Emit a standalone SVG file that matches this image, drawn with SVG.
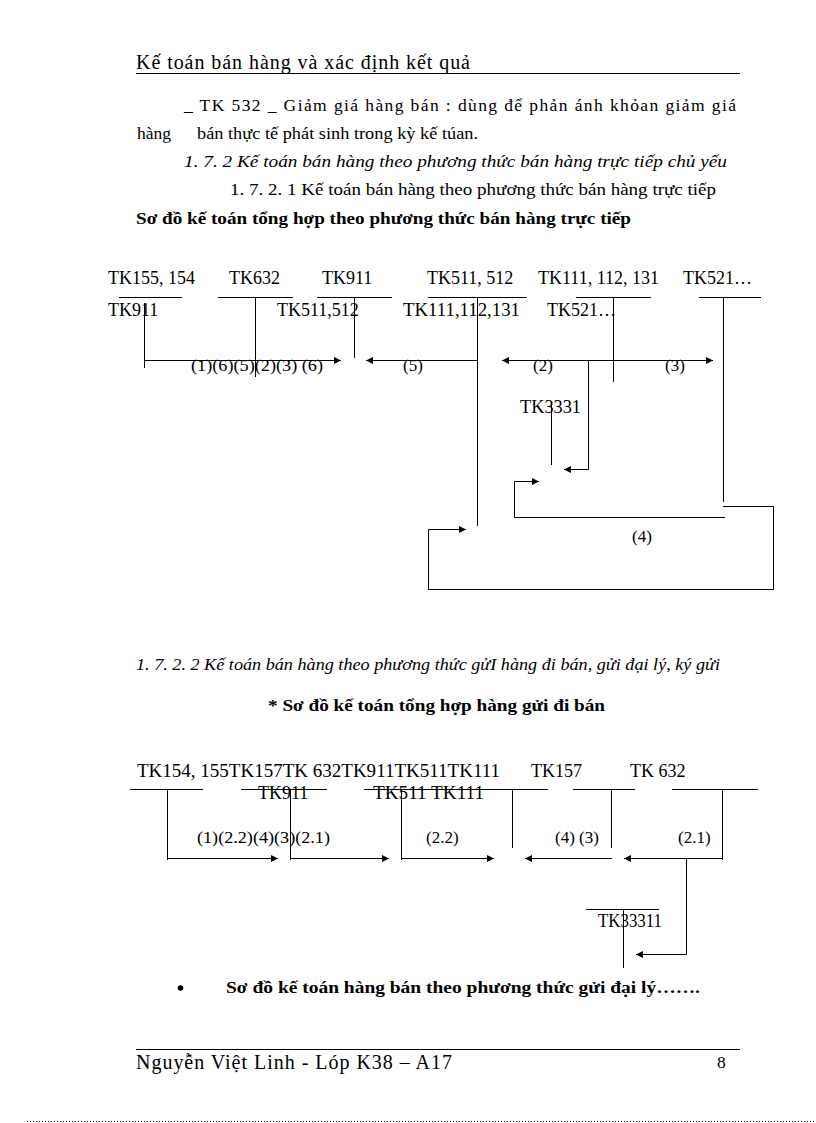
<svg xmlns="http://www.w3.org/2000/svg" width="816" height="1123" viewBox="0 0 816 1123">
<defs>
<marker id="ah" viewBox="0 0 10 10" refX="10" refY="5" markerWidth="9" markerHeight="7" markerUnits="userSpaceOnUse" orient="auto">
<path d="M0,0 L10,5 L0,10 z" fill="#000"/>
</marker>
</defs>
<style>
text{font-family:"Liberation Serif","Times New Roman",serif;fill:#000}
.h{font-size:20px}
.b{font-size:17.5px}
.i{font-size:17px;font-style:italic}
.bd{font-size:17px;font-weight:bold}
.t{font-size:18px}
.l{font-size:17px}
line,polyline{stroke:#000;stroke-width:1;fill:none}
.ar{marker-end:url(#ah)}
</style>
<rect width="816" height="1123" fill="#fff"/>

<g id="header">
<text class="h" x="136" y="69" textLength="334" lengthAdjust="spacing">Kế toán bán hàng và xác định kết quả</text>
<line x1="136" y1="73.5" x2="740" y2="73.5"/>
</g>

<g id="body-top">
<text class="b" x="184" y="111" textLength="552" lengthAdjust="spacing">_ TK 532 _ Giảm giá hàng bán : dùng để phản ánh khỏan giảm giá</text>
<text class="b" x="137" y="139">hàng</text>
<text class="b" x="197" y="139" textLength="281" lengthAdjust="spacingAndGlyphs">bán thực tế phát sinh trong kỳ kế túan.</text>
<text class="i" x="184" y="167" textLength="543" lengthAdjust="spacingAndGlyphs">1. 7. 2 Kế toán bán hàng theo phương thức bán hàng trực tiếp chủ yếu</text>
<text class="b" x="230" y="195" textLength="486" lengthAdjust="spacingAndGlyphs">1. 7. 2. 1 Kế toán bán hàng theo phương thức bán hàng trực tiếp</text>
<text class="bd" x="136" y="224" textLength="495" lengthAdjust="spacingAndGlyphs">Sơ đồ kế toán tổng hợp theo phương thức bán hàng trực tiếp</text>
</g>

<g id="d1-accounts">
<text class="t" x="108" y="284">TK155, 154</text>
<text class="t" x="229" y="284">TK632</text>
<text class="t" x="322" y="284">TK911</text>
<text class="t" x="427" y="284">TK511, 512</text>
<text class="t" x="538" y="284">TK111, 112, 131</text>
<text class="t" x="683" y="284">TK521…</text>
<text class="t" x="108" y="316">TK911</text>
<text class="t" x="277" y="316">TK511,512</text>
<text class="t" x="403" y="316" textLength="117" lengthAdjust="spacingAndGlyphs">TK111,112,131</text>
<text class="t" x="547" y="316">TK521…</text>
<text class="t" x="520" y="413" textLength="61" lengthAdjust="spacingAndGlyphs">TK3331</text>
</g>

<g id="d1-labels">
<text class="l" x="191" y="371" textLength="132" lengthAdjust="spacingAndGlyphs">(1)(6)(5)(2)(3) (6)</text>
<text class="l" x="403" y="371">(5)</text>
<text class="l" x="533" y="371">(2)</text>
<text class="l" x="665" y="371">(3)</text>
<text class="l" x="632" y="542">(4)</text>
</g>

<g id="d1-connectors">
<line x1="119" y1="297.5" x2="182" y2="297.5"/>
<line x1="218" y1="297.5" x2="293" y2="297.5"/>
<line x1="317" y1="297.5" x2="392" y2="297.5"/>
<line x1="428" y1="297.5" x2="527" y2="297.5"/>
<line x1="576" y1="297.5" x2="651" y2="297.5"/>
<line x1="699" y1="297.5" x2="761" y2="297.5"/>
<line x1="144.5" y1="303" x2="144.5" y2="368"/>
<line class="ar" x1="144.5" y1="360.5" x2="341" y2="360.5"/>
<line x1="255.5" y1="297" x2="255.5" y2="377"/>
<line x1="354.5" y1="297" x2="354.5" y2="358"/>
<line class="ar" x1="477.5" y1="360.5" x2="366" y2="360.5"/>
<line x1="477.5" y1="297" x2="477.5" y2="526"/>
<line class="ar" x1="613.5" y1="360.5" x2="502" y2="360.5"/>
<line class="ar" x1="613.5" y1="360.5" x2="713" y2="360.5"/>
<line x1="613.5" y1="297" x2="613.5" y2="382"/>
<polyline class="ar" points="588.5,360.5 588.5,469.5 564,469.5"/>
<line x1="551.5" y1="405" x2="551.5" y2="465"/>
<line x1="723.5" y1="297" x2="723.5" y2="502"/>
<polyline class="ar" points="725,517.5 514.5,517.5 514.5,481.5 539,481.5"/>
<polyline class="ar" points="723,506.5 773.5,506.5 773.5,589.5 428.5,589.5 428.5,529.5 466,529.5"/>
</g>

<g id="section2">
<text class="i" x="136" y="670" textLength="584" lengthAdjust="spacingAndGlyphs">1. 7. 2. 2 Kế toán bán hàng theo phương thức gửI hàng đi bán, gửi đại lý, ký gửi</text>
<text class="bd" x="268" y="711" textLength="337" lengthAdjust="spacingAndGlyphs">* Sơ đồ kế toán tổng hợp hàng gửi đi bán</text>
</g>

<g id="d2-accounts">
<text class="t" x="137" y="777" textLength="363" lengthAdjust="spacingAndGlyphs">TK154, 155TK157TK 632TK911TK511TK111</text>
<text class="t" x="531" y="777">TK157</text>
<text class="t" x="630" y="777">TK 632</text>
<text class="t" x="258" y="799">TK911</text>
<text class="t" x="373" y="799" textLength="111" lengthAdjust="spacingAndGlyphs">TK511 TK111</text>
<text class="t" x="598" y="927" textLength="64" lengthAdjust="spacingAndGlyphs">TK33311</text>
</g>

<g id="d2-labels">
<text class="l" x="197" y="843" textLength="133" lengthAdjust="spacingAndGlyphs">(1)(2.2)(4)(3)(2.1)</text>
<text class="l" x="426" y="843">(2.2)</text>
<text class="l" x="555" y="843">(4) (3)</text>
<text class="l" x="678" y="843">(2.1)</text>
</g>

<g id="d2-connectors">
<line x1="130" y1="789.5" x2="203" y2="789.5"/>
<line x1="241" y1="789.5" x2="327" y2="789.5"/>
<line x1="364" y1="789.5" x2="548" y2="789.5"/>
<line x1="573" y1="789.5" x2="635" y2="789.5"/>
<line x1="672" y1="789.5" x2="758" y2="789.5"/>
<line x1="167.5" y1="789" x2="167.5" y2="860"/>
<line class="ar" x1="167.5" y1="858.5" x2="278" y2="858.5"/>
<line x1="290.5" y1="789" x2="290.5" y2="860"/>
<line class="ar" x1="290.5" y1="858.5" x2="389" y2="858.5"/>
<line x1="401.5" y1="789" x2="401.5" y2="860"/>
<line class="ar" x1="401.5" y1="858.5" x2="494" y2="858.5"/>
<line x1="512.5" y1="789" x2="512.5" y2="848"/>
<line class="ar" x1="612" y1="858.5" x2="525" y2="858.5"/>
<line x1="611.5" y1="789" x2="611.5" y2="848"/>
<line x1="722.5" y1="789" x2="722.5" y2="860"/>
<line class="ar" x1="722.5" y1="858.5" x2="624" y2="858.5"/>
<polyline class="ar" points="686.5,858.5 686.5,954.5 636,954.5"/>
<line x1="586" y1="909.5" x2="659" y2="909.5"/>
<line x1="623.5" y1="909" x2="623.5" y2="968"/>
</g>

<g id="bullet">
<circle cx="180.5" cy="988" r="2.8" fill="#000"/>
<text class="bd" x="226" y="993" textLength="474" lengthAdjust="spacingAndGlyphs">Sơ đồ kế toán hàng bán theo phương thức gửi đại lý…….</text>
</g>

<g id="footer">
<line x1="136" y1="1049.5" x2="740" y2="1049.5"/>
<text class="h" x="136" y="1069" textLength="316" lengthAdjust="spacing">Nguyễn  Việt Linh - Lóp K38 – A17</text>
<text class="b" x="717" y="1068">8</text>
<line x1="27" y1="1121.5" x2="816" y2="1121.5" stroke="#bbb" stroke-dasharray="1,2"/>
</g>
</svg>
